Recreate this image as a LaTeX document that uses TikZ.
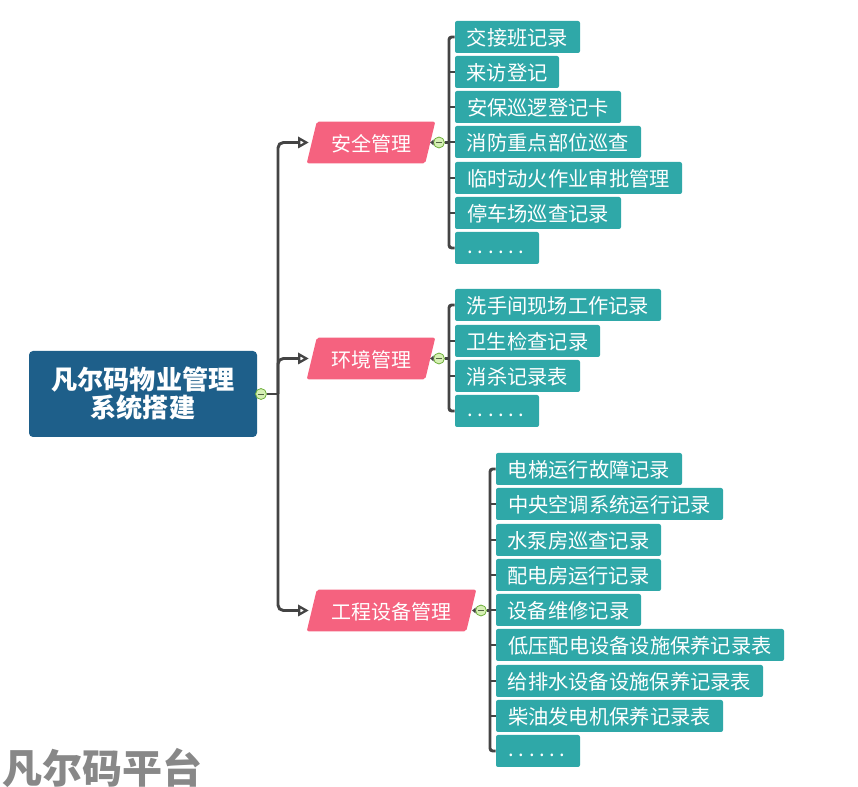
\documentclass[tikz,border=0pt]{standalone}
\usepackage{fontspec}
\setmainfont{Noto Sans CJK SC}
\newfontfamily\wmfont{Noto Sans CJK SC}
\usetikzlibrary{arrows.meta,backgrounds,calc}
\definecolor{lineC}{HTML}{444444}
\definecolor{tealC}{HTML}{2FA8A8}
\definecolor{pinkC}{HTML}{F5627F}
\definecolor{rootC}{HTML}{1E5F8A}
\definecolor{greenF}{HTML}{D6F0B4}
\definecolor{greenD}{HTML}{6FAF3C}
\definecolor{wmC}{HTML}{888888}
\tikzset{
  leaf/.style={fill=tealC,text=white,rounded corners=1.5pt,minimum height=24pt,inner sep=0pt,text height=14.1pt,text depth=1pt,font=\fontsize{15.2pt}{18pt}\selectfont},
  topic/.style={text=white,minimum height=30.75pt,inner sep=0pt,text height=14.1pt,text depth=1pt,font=\fontsize{15pt}{18pt}\selectfont},
  rootbox/.style={fill=rootC,text=white,rounded corners=3pt,inner sep=0pt,align=center,minimum height=64.5pt,minimum width=171pt,font=\fontsize{19.6pt}{21pt}\selectfont\bfseries},
  collapse/.style={circle,draw=greenD,fill=greenF,line width=0.6pt,minimum size=8.2pt,inner sep=0pt,
    path picture={\draw[lineC!70!greenD,line width=0.5pt] ([xshift=1.5pt]path picture bounding box.west) -- ([xshift=-1.5pt]path picture bounding box.east);}},
  branch/.style={draw=lineC,line width=2.2pt,rounded corners=4pt},
  bracket/.style={draw=lineC,line width=2.2pt,rounded corners=2pt},
  stub/.style={draw=lineC,line width=2.2pt},
  arrowed/.style={-{Triangle[open,fill=white,length=8pt,width=8.5pt,line width=1.7pt]},shorten >=-1.5pt},
  watermark/.style={text=wmC,inner sep=0pt,font=\wmfont\fontsize{30pt}{30pt}\selectfont\bfseries}
}
\newcommand{\leafnode}[5]{\node[leaf,minimum width={(#3-#2)*0.75pt}] (#1) at ({(#2+#3)/2},#4) {#5};}
\newcommand{\dotsleaf}[4]{\node[leaf,minimum width={(#3-#2)*0.75pt}] (#1) at ({(#2+#3)/2},#4) {\hspace{-1.5pt}\raisebox{2.2pt}{.\hspace{3.5pt}.\hspace{3.5pt}.\hspace{3.5pt}.\hspace{3.5pt}.\hspace{3.5pt}.}};}
\newcommand{\topicnode}[5]{%
  \node[topic,minimum width={(#3-#2)*0.75pt}] (#1) at ({(#2+#3)/2},#4) {#5};
  \begin{scope}[on background layer]
    \fill[pinkC,rounded corners=1.5pt] ($(#1.north west)+(7.5pt,0)$) -- (#1.north east) -- ($(#1.south east)+(-7.5pt,0)$) -- (#1.south west) -- cycle;
  \end{scope}}
\begin{document}
\begin{tikzpicture}[x=0.75pt,y=-0.75pt]
\useasboundingbox (0,0) rectangle (858,787);
% root
\node[rootbox] (root) at (143,394) {凡尔码物业管理\\系统搭建};
\node[collapse] (rootc) at (261,394) {};
\coordinate (hub) at (278,394);
% topics
\topicnode{t1}{307}{435}{142.5}{安全管理}
\topicnode{t2}{307}{435}{358.5}{环境管理}
\topicnode{t3}{307}{476}{610.5}{工程设备管理}
% group 1
\leafnode{a1}{455}{580}{37}{交接班记录}
\leafnode{a2}{455}{559}{72}{来访登记}
\leafnode{a3}{455}{621}{107}{安保巡逻登记卡}
\leafnode{a4}{455}{641}{142}{消防重点部位巡查}
\leafnode{a5}{455}{682}{178}{临时动火作业审批管理}
\leafnode{a6}{455}{621}{213}{停车场巡查记录}
\dotsleaf{a7}{455}{539}{248}
% group 2
\leafnode{b1}{455}{661}{305}{洗手间现场工作记录}
\leafnode{b2}{455}{600}{341}{卫生检查记录}
\leafnode{b3}{455}{580}{376}{消杀记录表}
\dotsleaf{b4}{455}{539}{411}
% group 3
\leafnode{c1}{496}{682}{469}{电梯运行故障记录}
\leafnode{c2}{496}{723}{504}{中央空调系统运行记录}
\leafnode{c3}{496}{661}{540}{水泵房巡查记录}
\leafnode{c4}{496}{661}{575}{配电房运行记录}
\leafnode{c5}{496}{641}{610}{设备维修记录}
\leafnode{c6}{496}{784}{645}{低压配电设备设施保养记录表}
\leafnode{c7}{496}{763}{681}{给排水设备设施保养记录表}
\leafnode{c8}{496}{723}{716}{柴油发电机保养记录表}
\dotsleaf{c9}{496}{580}{751}
% collapse markers
\node[collapse] (t1c) at (439,142.5) {};
\node[collapse] (t2c) at (439,358.5) {};
\node[collapse] (t3c) at (481,610.5) {};
% trunks
\coordinate (s1) at (449,142.5);
\coordinate (s2) at (449,358.5);
\coordinate (s3) at (490,610.5);
\begin{scope}[on background layer]
\draw[stub] (rootc.east) -- (hub);
\draw[branch,arrowed] (hub) |- (t1.west);
\draw[branch,arrowed] (hub) |- (t3.west);
\draw[branch,arrowed] (hub) |- (t2.west);
\draw[stub] (t1c.east) -- (s1);
\draw[stub] (t2c.east) -- (s2);
\draw[stub] (t3c.east) -- (s3);
\draw[bracket] (a1.west) -| (s1) |- (a7.west);
\draw[bracket] (b1.west) -| (s2) |- (b4.west);
\draw[bracket] (c1.west) -| (s3) |- (c9.west);
\foreach \n in {a2,a3,a4,a5,a6} \draw[stub] (\n.west) -- (\n.west -| s1);
\foreach \n in {b2,b3} \draw[stub] (\n.west) -- (\n.west -| s2);
\foreach \n in {c2,c3,c4,c5,c6,c7,c8} \draw[stub] (\n.west) -- (\n.west -| s3);
\end{scope}
% small tips
\foreach \n in {t1c,t2c,t3c} \fill[lineC] (\n.west) ++(-3,0) -- ++(3.5,-3) -- ++(0,6) -- cycle;
% watermark
\node[watermark,anchor=west] (wm) at (2,768) {凡尔码平台};
\end{tikzpicture}
\end{document}
